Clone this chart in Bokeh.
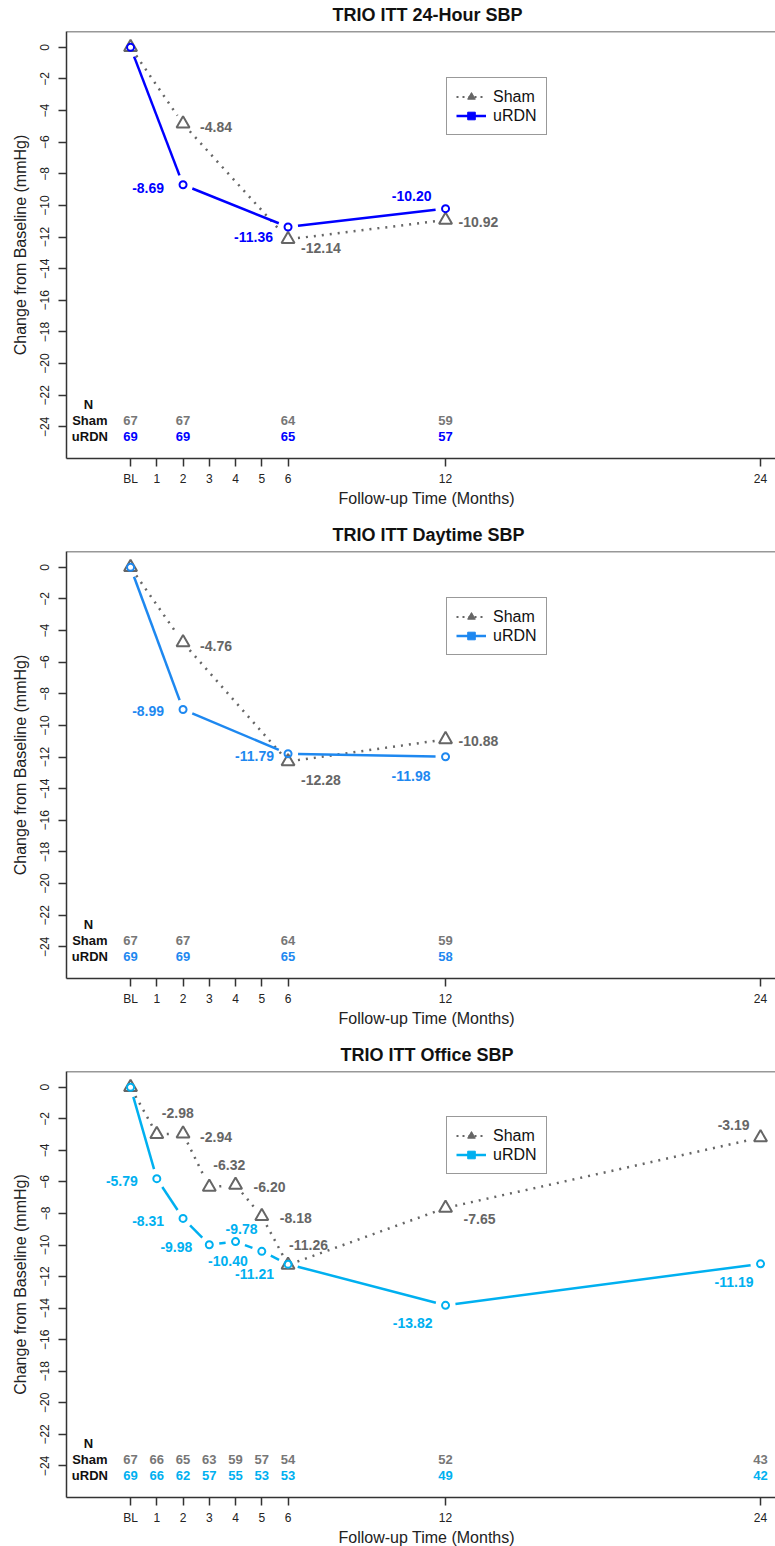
import numpy as np
from bokeh.plotting import figure
from bokeh.models import Range1d, FixedTicker, Span, Title, Legend, LegendItem, ColumnDataSource
from bokeh.layouts import column
from bokeh.embed import file_html
from bokeh.resources import INLINE
from bokeh.core.properties import value

# ---------------- data ----------------
x_ticks = [0, 1, 2, 3, 4, 5, 6, 12, 24]
x_tick_labels = {0: "BL"}
y_ticks = [0, -2, -4, -6, -8, -10, -12, -14, -16, -18, -20, -22, -24]

titles = ["TRIO ITT 24-Hour SBP", "TRIO ITT Daytime SBP", "TRIO ITT Office SBP"]
urdn_colors = ["#0000FF", "#1E88F0", "#00B0F0"]

p1_months = [0, 2, 6, 12]
p1_sham = [0.0, -4.84, -12.14, -10.92]
p1_urdn = [0.0, -8.69, -11.36, -10.20]
p1_sham_n = [67, 67, 64, 59]
p1_urdn_n = [69, 69, 65, 57]

p2_months = [0, 2, 6, 12]
p2_sham = [0.0, -4.76, -12.28, -10.88]
p2_urdn = [0.0, -8.99, -11.79, -11.98]
p2_sham_n = [67, 67, 64, 59]
p2_urdn_n = [69, 69, 65, 58]

p3_months = [0, 1, 2, 3, 4, 5, 6, 12, 24]
p3_sham = [0.0, -2.98, -2.94, -6.32, -6.20, -8.18, -11.26, -7.65, -3.19]
p3_urdn = [0.0, -5.79, -8.31, -9.98, -9.78, -10.40, -11.21, -13.82, -11.19]
p3_sham_n = [67, 66, 65, 63, 59, 57, 54, 52, 43]
p3_urdn_n = [69, 66, 62, 57, 55, 53, 53, 49, 42]

# ---------------- label styles (align, dx px, dy px) per point; None = no label ----
p1_sham_lab = [None, ("left", 17, 3), ("left", 13, 9), ("left", 13, 2)]
p1_urdn_lab = [None, ("right", -19, 3), ("right", -15, 10), ("right", -14, -13)]
p2_sham_lab = [None, ("left", 17, 3), ("left", 13, 18), ("left", 13, 2)]
p2_urdn_lab = [None, ("right", -19, 2), ("right", -14, 2), ("right", -15, 19)]
p3_sham_lab = [None, ("left", 5, -21), ("left", 17, 3), ("left", 4, -22), ("left", 18, 2),
               ("left", 18, 2), ("left", 1, -20), ("left", 18, 11), ("right", -11, -13)]
p3_urdn_lab = [None, ("right", -19, 2), ("right", -19, 3), ("right", -17, 2), ("left", -10, -13),
               ("right", -14, 10), ("right", -14, 10), ("right", -13, 18), ("right", -7, 18)]

# title left offsets (px from frame left) so titles are centred on the original plot region
title_offsets = [266, 266, 274]

SHAM = "#666666"
FONT = "Liberation Sans"
X_START, X_END = -2.44, 24.57
Y_START, Y_END = -26.0, 1.0
FW, FH = 709, 427
SX = FW / (X_END - X_START)
SY = FH / (Y_END - Y_START)
GAP = 10.0


def gapped(xs, ys):
    x0, y0, x1, y1 = [], [], [], []
    for i in range(len(xs) - 1):
        ddx, ddy = xs[i + 1] - xs[i], ys[i + 1] - ys[i]
        L = ((ddx * SX) ** 2 + (ddy * SY) ** 2) ** 0.5
        if L <= 2 * GAP:
            continue
        f = GAP / L
        x0.append(xs[i] + ddx * f)
        y0.append(ys[i] + ddy * f)
        x1.append(xs[i + 1] - ddx * f)
        y1.append(ys[i + 1] - ddy * f)
    return dict(x0=x0, y0=y0, x1=x1, y1=y1)


def add_labels(p, xs, ys, styles, color):
    groups = {}
    for xv, yv, st in zip(xs, ys, styles):
        if st is None:
            continue
        g = groups.setdefault(st[0], dict(x=[], y=[], t=[], dx=[], dy=[]))
        g["x"].append(xv)
        g["y"].append(yv)
        g["t"].append("%.2f" % yv)
        g["dx"].append(st[1])
        g["dy"].append(st[2])
    for align, g in groups.items():
        p.text(x="x", y="y", text="t", x_offset="dx", y_offset="dy",
               source=ColumnDataSource(g), text_align=align, text_baseline="middle",
               text_font=value(FONT), text_font_style="bold", text_font_size="14px",
               text_color=color)


def make_panel(title, toff, months, sham, urdn, sham_n, urdn_n, sham_lab, urdn_lab, color, bottom):
    p = figure(width=66 + FW, height=31 + FH + bottom, output_backend="svg",
               toolbar_location=None, x_range=Range1d(X_START, X_END),
               y_range=Range1d(Y_START, Y_END), min_border_left=66, min_border_right=0,
               min_border_top=31, min_border_bottom=bottom)
    p.title = Title(text=title, align="left", offset=toff, text_font=FONT,
                    text_font_style="bold", text_font_size="18px", text_color="#111111",
                    standoff=9, vertical_align="top")
    p.outline_line_color = None
    p.xgrid.visible = False
    p.ygrid.visible = False
    for ax in (p.xaxis[0], p.yaxis[0]):
        ax.axis_line_color = "#333333"
        ax.axis_line_width = 1.5
        ax.major_tick_line_color = "#333333"
        ax.major_tick_line_width = 1.5
        ax.major_tick_in = 0
        ax.major_tick_out = 8
        ax.minor_tick_line_color = None
        ax.major_label_text_font = FONT
        ax.major_label_text_font_size = "12px"
        ax.major_label_text_color = "#222222"
    p.xaxis.ticker = FixedTicker(ticks=x_ticks)
    p.xaxis.major_label_overrides = x_tick_labels
    p.xaxis.major_label_standoff = 5
    p.yaxis.ticker = FixedTicker(ticks=y_ticks)
    p.yaxis.major_label_orientation = "vertical"
    p.yaxis.major_label_standoff = 9
    p.yaxis.axis_label = "Change from Baseline (mmHg)"
    p.yaxis.axis_label_text_font = FONT
    p.yaxis.axis_label_text_font_size = "16px"
    p.yaxis.axis_label_text_font_style = "normal"
    p.yaxis.axis_label_text_color = "#222222"
    p.yaxis.axis_label_standoff = 9

    p.add_layout(Title(text="Follow-up Time (Months)", align="left", offset=272,
                       text_font=FONT, text_font_style="normal", text_font_size="16px",
                       text_color="#222222", standoff=0, vertical_align="middle"), "below")

    p.add_layout(Span(location=Y_END, dimension="width", line_color="#333333", line_width=1.5))

    # sham
    p.segment(x0="x0", y0="y0", x1="x1", y1="y1", source=ColumnDataSource(gapped(months, sham)),
              line_color=SHAM, line_width=2.5, line_dash="2 6")
    p.scatter(months, sham, marker="triangle", size=13, fill_color=None,
              line_color=SHAM, line_width=2)
    # uRDN
    p.segment(x0="x0", y0="y0", x1="x1", y1="y1", source=ColumnDataSource(gapped(months, urdn)),
              line_color=color, line_width=2.5)
    p.scatter(months, urdn, marker="circle", size=7, fill_color=None,
              line_color=color, line_width=2)

    add_labels(p, months, sham, sham_lab, SHAM)
    add_labels(p, months, urdn, urdn_lab, color)

    # N table
    p.text(x=[-1.6], y=[-22.6], text=["N"], text_align="center", text_baseline="middle",
           text_font=value(FONT), text_font_style="bold", text_font_size="13px", text_color="#111111")
    p.text(x=[-1.55, -1.55], y=[-23.6, -24.6], text=["Sham", "uRDN"], text_align="center",
           text_baseline="middle", text_font=value(FONT), text_font_style="bold",
           text_font_size="13px", text_color="#111111")
    p.text(x=months, y=[-23.6] * len(months), text=[str(v) for v in sham_n], text_align="center",
           text_baseline="middle", text_font=value(FONT), text_font_style="bold",
           text_font_size="13px", text_color="#777777")
    p.text(x=months, y=[-24.6] * len(months), text=[str(v) for v in urdn_n], text_align="center",
           text_baseline="middle", text_font=value(FONT), text_font_style="bold",
           text_font_size="13px", text_color=color)

    # legend (legend-only glyphs)
    l1 = p.line([np.nan], [np.nan], line_color=SHAM, line_width=2, line_dash="2 4")
    l2 = p.scatter([np.nan], [np.nan], marker="triangle", size=9, fill_color=SHAM, line_color=SHAM)
    l3 = p.line([np.nan], [np.nan], line_color=color, line_width=2.5)
    l4 = p.scatter([np.nan], [np.nan], marker="square", size=6, fill_color=color, line_color=color)
    legend = Legend(items=[LegendItem(label="Sham", renderers=[l1, l2]),
                           LegendItem(label="uRDN", renderers=[l3, l4])],
                    location=(380, 323), border_line_color="#333333", border_line_width=1.5,
                    background_fill_color="white", background_fill_alpha=1.0,
                    label_text_font=FONT, label_text_font_size="16px", label_text_color="#111111",
                    padding=9, spacing=0, glyph_width=30, glyph_height=19, label_height=19,
                    label_width=43, label_standoff=7, margin=0)
    p.add_layout(legend)
    return p


pa = make_panel(titles[0], title_offsets[0], p1_months, p1_sham, p1_urdn, p1_sham_n, p1_urdn_n,
                p1_sham_lab, p1_urdn_lab, urdn_colors[0], 62)
pb = make_panel(titles[1], title_offsets[1], p2_months, p2_sham, p2_urdn, p2_sham_n, p2_urdn_n,
                p2_sham_lab, p2_urdn_lab, urdn_colors[1], 62)
pc = make_panel(titles[2], title_offsets[2], p3_months, p3_sham, p3_urdn, p3_sham_n, p3_urdn_n,
                p3_sham_lab, p3_urdn_lab, urdn_colors[2], 48)

layout = column(pa, pb, pc, spacing=0)
open("out.html", "w").write(file_html(layout, INLINE))
